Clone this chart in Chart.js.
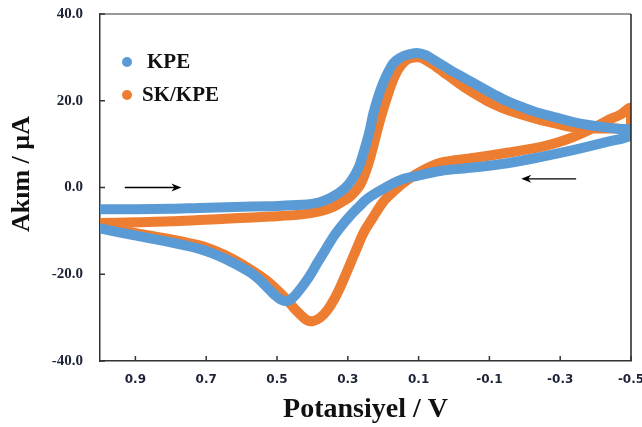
<!DOCTYPE html>
<html>
<head>
<meta charset="utf-8">
<script src="https://cdn.jsdelivr.net/npm/chart.js@4.4.1/dist/chart.umd.min.js"></script>
<style>
  body { margin: 0; background: #fff; }
  #wrap { width: 642px; height: 427px; }
</style>
</head>
<body>
<div id="wrap"><canvas id="mycanvas"></canvas></div>
<script>
// potential (V) and current (uA), forward branch then return branch
var kpeV = [1.00, 0.90, 0.80, 0.72, 0.62, 0.52, 0.43, 0.38, 0.34, 0.31, 0.29, 0.27, 0.256, 0.24, 0.228, 0.214, 0.20, 0.186, 0.172, 0.152, 0.132, 0.104, 0.08, 0.059, 0.035, 0.011, -0.037, -0.074, -0.11, -0.15, -0.20, -0.243, -0.29, -0.336, -0.38, -0.432, -0.47, -0.50,
            -0.50, -0.432, -0.336, -0.243, -0.15, -0.054, 0.039, 0.104, 0.152, 0.20, 0.245, 0.273, 0.293, 0.317, 0.341, 0.365, 0.386, 0.41, 0.434, 0.455, 0.471, 0.49, 0.505, 0.527, 0.55, 0.575, 0.623, 0.67, 0.717, 0.81, 0.906, 1.00];
var kpeI = [-5.0, -5.0, -4.9, -4.7, -4.5, -4.3, -4.0, -3.4, -2.0, -0.3, 1.6, 4.5, 7.9, 12.5, 17.0, 21.0, 24.1, 26.6, 28.6, 29.9, 30.6, 31.0, 30.5, 29.5, 28.3, 27.1, 24.9, 23.2, 21.6, 19.9, 18.3, 17.1, 16.1, 15.1, 14.4, 13.8, 13.5, 13.3,
            12.0, 10.5, 8.6, 7.0, 5.6, 4.6, 3.8, 2.7, 1.7, -0.3, -2.6, -4.8, -6.5, -8.8, -11.4, -14.6, -17.4, -20.7, -23.4, -25.4, -26.2, -25.8, -24.9, -23.1, -21.2, -19.6, -17.4, -15.6, -14.2, -12.5, -11.0, -9.4];

var skV = [1.00, 0.90, 0.80, 0.72, 0.62, 0.52, 0.43, 0.38, 0.34, 0.31, 0.29, 0.265, 0.25, 0.237, 0.225, 0.214, 0.20, 0.186, 0.172, 0.158, 0.14, 0.124, 0.10, 0.08, 0.053, 0.03, 0.011, -0.03, -0.074, -0.11, -0.15, -0.20, -0.243, -0.29, -0.319, -0.36, -0.412, -0.46, -0.50,
           -0.50, -0.47, -0.432, -0.39, -0.336, -0.29, -0.243, -0.15, -0.054, 0.039, 0.096, 0.144, 0.172, 0.20, 0.228, 0.256, 0.273, 0.285, 0.303, 0.321, 0.34, 0.358, 0.378, 0.398, 0.415, 0.434, 0.452, 0.471, 0.50, 0.527, 0.575, 0.623, 0.669, 0.717, 0.81, 0.906, 1.00];
var skI = [-8.2, -8.0, -7.8, -7.5, -7.1, -6.7, -6.2, -5.5, -4.4, -3.0, -1.8, 0.6, 3.5, 6.8, 10.5, 14.0, 18.0, 21.6, 24.8, 27.2, 29.0, 29.8, 30.0, 29.4, 28.0, 26.6, 25.5, 23.1, 20.9, 19.3, 17.9, 16.6, 15.6, 14.7, 14.1, 13.8, 13.6, 13.6, 13.7,
           18.3, 16.8, 15.4, 13.6, 11.6, 10.3, 9.3, 8.0, 6.8, 5.7, 3.6, 1.0, -1.0, -3.3, -6.8, -10.5, -13.7, -16.0, -19.5, -22.9, -26.0, -28.3, -30.0, -30.8, -30.6, -29.3, -27.8, -26.0, -23.6, -21.6, -18.9, -16.6, -14.8, -13.4, -11.8, -10.4, -9.2];

var seriesNames = ['KPE', 'SK/KPE'];
var xTicks = [0.9, 0.7, 0.5, 0.3, 0.1, -0.1, -0.3, -0.5];
var yTicks = [-40, -20, 0, 20, 40];
var yTitle = 'Akım / µA';

function toPoints(xs, ys) {
  var pts = [];
  for (var i = 0; i < xs.length; i++) pts.push({x: xs[i], y: ys[i]});
  return pts;
}

var serif = "'Liberation Serif', 'Times New Roman', serif";

// frame, inward tick marks, arrows, legend and y title
var extras = {
  id: 'extras',
  afterDatasetsDraw: function(chart) {
    var ctx = chart.ctx, a = chart.chartArea;
    var xs = chart.scales.x, ys = chart.scales.y;
    ctx.save();
    ctx.lineWidth = 1.5;
    ctx.strokeStyle = '#777';
    ctx.beginPath(); ctx.moveTo(a.left, a.top); ctx.lineTo(a.right, a.top); ctx.stroke();
    ctx.strokeStyle = '#222';
    ctx.beginPath(); ctx.moveTo(a.right, a.top); ctx.lineTo(a.right, a.bottom); ctx.stroke();

    ctx.strokeStyle = '#333';
    ctx.lineWidth = 1.5;
    xs.ticks.forEach(function(t) {
      var px = xs.getPixelForValue(t.value);
      ctx.beginPath(); ctx.moveTo(px, a.bottom); ctx.lineTo(px, a.bottom - 5); ctx.stroke();
    });
    ys.ticks.forEach(function(t) {
      var py = ys.getPixelForValue(t.value);
      ctx.beginPath(); ctx.moveTo(a.left, py); ctx.lineTo(a.left + 5, py); ctx.stroke();
    });

    function arrow(x1, x2, yv) {
      var p1 = xs.getPixelForValue(x1), p2 = xs.getPixelForValue(x2), py = ys.getPixelForValue(yv);
      var dir = p2 > p1 ? 1 : -1;
      ctx.strokeStyle = '#000';
      ctx.fillStyle = '#000';
      ctx.lineWidth = 1.3;
      ctx.beginPath(); ctx.moveTo(p1, py); ctx.lineTo(p2 - dir * 6, py); ctx.stroke();
      ctx.beginPath();
      ctx.moveTo(p2, py);
      ctx.lineTo(p2 - dir * 10, py - 4);
      ctx.lineTo(p2 - dir * 7, py);
      ctx.lineTo(p2 - dir * 10, py + 4);
      ctx.closePath(); ctx.fill();
    }
    arrow(0.93, 0.77, 0.0);
    arrow(-0.345, -0.19, 2.0);

    ctx.font = 'bold 21px ' + serif;
    ctx.textBaseline = 'middle';
    chart.data.datasets.forEach(function(ds, i) {
      var ly = a.top + 48 + i * 33;
      ctx.fillStyle = ds.borderColor;
      ctx.beginPath(); ctx.arc(a.left + 27, ly, 5, 0, Math.PI * 2); ctx.fill();
      ctx.fillStyle = '#111';
      ctx.fillText(ds.label, a.left + (i === 0 ? 47 : 42), ly + 1);
    });

    // y axis title, sits a little above the middle of the axis
    ctx.translate(22, 174);
    ctx.rotate(-Math.PI / 2);
    ctx.font = 'bold 26px ' + serif;
    ctx.textAlign = 'center';
    ctx.textBaseline = 'middle';
    ctx.fillStyle = '#111';
    ctx.fillText(yTitle, 0, 0);
    ctx.restore();
  }
};

function noPad(scale) {
  scale.paddingLeft = 0;
  scale.paddingRight = 0;
  scale.paddingTop = 0;
  scale.paddingBottom = 0;
}

var ctx = document.getElementById('mycanvas');
var chart = new Chart(ctx, {
  type: 'scatter',
  data: {
    datasets: [
      {
        label: seriesNames[0],
        data: toPoints(kpeV, kpeI),
        showLine: true,
        borderColor: '#5B9BD5',
        backgroundColor: '#5B9BD5',
        borderWidth: 10,
        borderCapStyle: 'round',
        borderJoinStyle: 'round',
        tension: 0.35,
        pointRadius: 0
      },
      {
        label: seriesNames[1],
        data: toPoints(skV, skI),
        showLine: true,
        borderColor: '#ED7D31',
        backgroundColor: '#ED7D31',
        borderWidth: 10,
        borderCapStyle: 'round',
        borderJoinStyle: 'round',
        tension: 0.35,
        pointRadius: 0
      }
    ]
  },
  options: {
    responsive: true,
    maintainAspectRatio: false,
    animation: false,
    layout: { padding: { top: 14, right: 11, left: 0, bottom: 0 } },
    plugins: {
      legend: { display: false },
      tooltip: { enabled: false }
    },
    scales: {
      x: {
        type: 'linear',
        reverse: true,
        min: -0.5,
        max: 1.0,
        afterBuildTicks: function(scale) {
          scale.ticks = xTicks.map(function(v) { return {value: v}; });
        },
        afterFit: function(scale) { scale.height = 66; noPad(scale); },
        grid: { display: false, drawTicks: false },
        border: { display: true, color: '#333', width: 1.5 },
        ticks: {
          padding: 12,
          color: '#1c2336',
          font: { family: "'DejaVu Sans', sans-serif", size: 12, weight: 'bold' },
          callback: function(v) { return String(Math.round(v * 10) / 10); }
        },
        title: {
          display: true,
          text: 'Potansiyel / V',
          color: '#111',
          font: { family: serif, size: 28, weight: 'bold' },
          padding: { top: 2, bottom: 0 }
        }
      },
      y: {
        min: -40,
        max: 40,
        afterBuildTicks: function(scale) {
          scale.ticks = yTicks.map(function(v) { return {value: v}; });
        },
        afterFit: function(scale) { scale.width = 100; noPad(scale); },
        grid: { display: false, drawTicks: false },
        border: { display: true, color: '#333', width: 1.5 },
        ticks: {
          padding: 17,
          color: '#1c2336',
          font: { family: serif, size: 15, weight: 'bold' },
          callback: function(v) { return v.toFixed(1); }
        },
        title: { display: false }
      }
    }
  },
  plugins: [extras]
});
</script>
</body>
</html>
